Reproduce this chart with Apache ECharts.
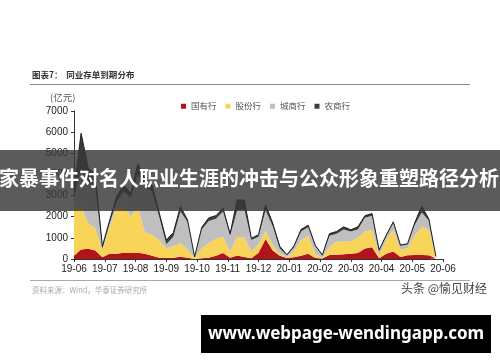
<!DOCTYPE html>
<html>
<head>
<meta charset="utf-8">
<script src="https://cdn.jsdelivr.net/npm/echarts@6/dist/echarts.min.js"></script>
<style>
html,body{margin:0;padding:0;background:#fff;}
#chart{width:500px;height:362px;}
</style>
</head>
<body>
<div id="chart"></div>
<script>
// Weekly observation dates (last entry = axis end)
var weeks = ['2019-06-03','2019-06-10','2019-06-17','2019-06-24','2019-07-01','2019-07-08','2019-07-15','2019-07-22','2019-07-29',
 '2019-08-05','2019-08-12','2019-08-19','2019-08-26','2019-09-02','2019-09-09','2019-09-16','2019-09-23','2019-09-30',
 '2019-10-07','2019-10-14','2019-10-21','2019-10-28','2019-11-04','2019-11-11','2019-11-18','2019-11-25',
 '2019-12-02','2019-12-09','2019-12-16','2019-12-23','2019-12-30','2020-01-06','2020-01-13','2020-01-20','2020-01-27',
 '2020-02-03','2020-02-10','2020-02-17','2020-02-24','2020-03-02','2020-03-09','2020-03-16','2020-03-23','2020-03-30',
 '2020-04-06','2020-04-13','2020-04-20','2020-04-27','2020-05-04','2020-05-11','2020-05-18','2020-05-25','2020-06-01'];

// Tick labels (months)
var monthTicks = ['19-06','19-07','19-08','19-09','19-10','19-11','19-12','20-01','20-02','20-03','20-04','20-05','20-06'];

var seriesNames = ['国有行','股份行','城商行','农商行'];

// 亿元
var guoyou = [150,450,480,400,80,250,250,300,280,300,250,150,60,50,60,110,60,0,30,60,150,280,60,170,100,30,
  300,950,400,150,50,80,150,250,50,20,190,200,230,250,280,500,560,30,250,350,100,180,190,190,180,20,'-'];
var gufen = [2250,2050,1220,1050,320,1250,2200,2150,1720,2150,1000,1000,840,450,540,640,390,50,470,690,800,770,290,870,900,320,
  400,400,250,100,50,270,750,850,200,30,390,620,590,600,710,800,810,160,650,1020,350,320,910,1330,1220,60,'-'];
var chengshang = [500,1800,1900,1950,100,150,250,750,900,1550,2150,2050,1100,200,450,1500,1300,30,900,1050,950,1200,750,1260,1350,550,
  350,950,900,250,80,200,400,400,350,100,520,380,580,450,410,650,680,190,180,330,180,180,500,680,420,20,'-'];
var nongshang = [300,1650,700,600,100,150,250,300,200,500,400,300,200,200,200,230,100,20,100,150,150,150,100,500,430,80,
  100,250,150,100,20,70,100,100,50,40,100,100,120,80,120,100,100,40,50,60,30,40,100,300,80,20,'-'];

var colors = ['#b3111b','#f8d458','#bfbfbf','#3c3d42'];

var allData = [guoyou, gufen, chengshang, nongshang];
var series = allData.map(function(arr, k){
  return {
    name: seriesNames[k],
    type: 'line',
    stack: 'total',
    xAxisIndex: 0,
    data: arr,
    showSymbol: false,
    symbol: 'none',
    smooth: false,
    color: colors[k],
    lineStyle: k === 3 ? {width: 1, color: '#1f1f22'} : {width: 0},
    areaStyle: {color: colors[k], opacity: 1},
    emphasis: {disabled: true},
    z: 2
  };
});

var chart = echarts.init(document.getElementById('chart'), null, {renderer: 'canvas'});
var latin = '"Liberation Sans", Arial, sans-serif';
var cjk = '"Noto Sans CJK SC", sans-serif';

chart.setOption({
  backgroundColor: '#ffffff',
  animation: false,
  grid: {left: 74, right: 57, top: 111, bottom: 103, containLabel: false},
  legend: {
    data: seriesNames,
    left: 176, top: 97,
    itemWidth: 5, itemHeight: 5, itemGap: 9,
    icon: 'rect',
    textStyle: {fontSize: 8.5, color: '#555', fontFamily: cjk}
  },
  xAxis: [
    {
      type: 'category', data: weeks, boundaryGap: false, show: false
    },
    {
      type: 'value', min: 0, max: 12, interval: 1, position: 'bottom',
      axisLine: {show: true, lineStyle: {color: '#333', width: 1}},
      axisTick: {show: true, length: 3, lineStyle: {color: '#333'}},
      splitLine: {show: false},
      axisLabel: {
        fontSize: 10, color: '#222', fontFamily: latin, margin: 5,
        formatter: function(v){ return monthTicks[Math.round(v)] || ''; }
      }
    }
  ],
  yAxis: {
    type: 'value', min: 0, max: 7000, interval: 1000,
    axisLine: {show: true, lineStyle: {color: '#333', width: 1}},
    axisTick: {show: true, length: 3, lineStyle: {color: '#333'}},
    splitLine: {show: false},
    axisLabel: {fontSize: 10, color: '#222', fontFamily: latin, margin: 6,
      formatter: function(v){ return String(v); }}
  },
  series: series,
  graphic: [
    {type: 'text', left: 32, top: 71, z: 10,
     style: {text: '图表7：  同业存单到期分布', font: 'bold 8.5px ' + cjk, fill: '#333'}},
    {type: 'line', z: 10, shape: {x1: 30, y1: 84.5, x2: 470, y2: 84.5}, style: {stroke: '#888', lineWidth: 1}},
    {type: 'text', left: 50, top: 93, z: 10,
     style: {text: '(亿元)', font: '9.5px ' + cjk, fill: '#555'}},
    {type: 'line', z: 10, shape: {x1: 30, y1: 280.5, x2: 470, y2: 280.5}, style: {stroke: '#aaa', lineWidth: 1}},
    {type: 'text', left: 32, top: 286, z: 10,
     style: {text: '资料来源：Wind，华泰证券研究所', font: '7.5px ' + cjk, fill: '#aaa'}},
    {type: 'text', left: 401, top: 282, z: 10,
     style: {text: '头条 @愉见财经', font: '12px ' + cjk, fill: '#444'}},
    {type: 'rect', z: 20, shape: {x: 0, y: 150, width: 500, height: 61},
     style: {fill: 'rgba(55,55,55,0.82)'}},
    {type: 'text', z: 21, left: -1, top: 168,
     style: {text: '家暴事件对名人职业生涯的冲击与公众形象重塑路径分析', font: 'bold 20px ' + cjk, fill: '#ffffff'}},
    {type: 'rect', z: 20, shape: {x: 201, y: 315, width: 290, height: 38}, style: {fill: '#000000'}},
    {type: 'text', z: 21, x: 346, y: 334,
     style: {text: 'www.webpage-wendingapp.com', font: 'bold 17px "Noto Sans", sans-serif', fill: '#ffffff',
             textAlign: 'center', textVerticalAlign: 'middle'}}
  ]
});
</script>
</body>
</html>
